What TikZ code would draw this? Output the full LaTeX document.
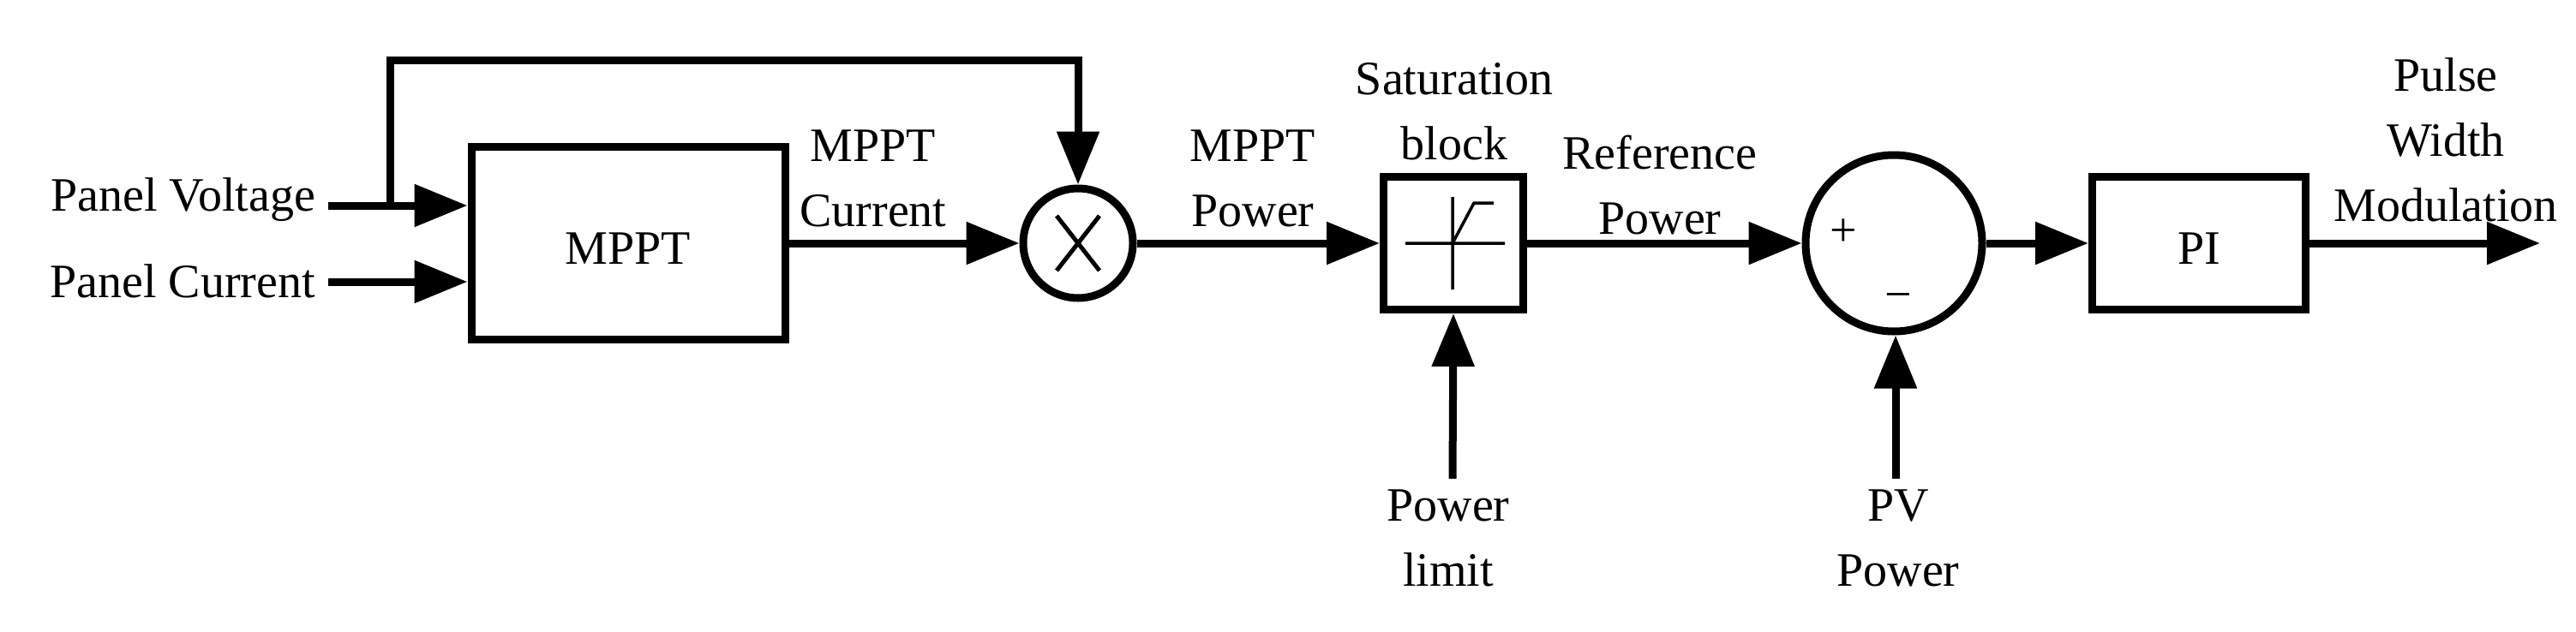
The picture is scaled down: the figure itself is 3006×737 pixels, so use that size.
\documentclass[tikz,border=0pt]{standalone}
\usepackage{fontspec}
\setmainfont{Liberation Serif}
\usetikzlibrary{arrows.meta}
\begin{document}
\begin{tikzpicture}[x=1pt,y=-1pt,
  lbl/.style={font=\fontsize{56}{76}\selectfont, align=center, inner sep=0pt},
  blk/.style={draw, line width=9pt, inner sep=0pt},
  wire/.style={line width=9pt},
  arr/.style={wire, -{Triangle[length=62pt,width=48pt]}}]
\useasboundingbox (0,0) rectangle (3006,737);
% blocks
\node[blk, minimum width=366pt, minimum height=225pt] (mppt) at (733,284) {};
\node[lbl] at (733,290) {MPPT};
\node[blk, circle, minimum size=128pt] (mul) at (1258,284) {};
\draw[line width=5pt] (mul.center) ++(-25,-32) -- ++(50,64) ++(0,-64) -- ++(-50,64);
\node[blk, minimum width=163pt, minimum height=155pt] (sat) at (1696,284) {};
\draw[line width=3.5pt] (1640,284) -- (1756,284) (1695,230) -- (1695,338)
  (1695,284) -- (1720,237) -- (1743,237);
\node[blk, circle, minimum size=206pt] (sum) at (2210,284) {};
\node[lbl] at (2151,272) {+};
\node[lbl] at (2215,352) {\textminus};
\node[blk, minimum width=249pt, minimum height=155pt] (pi) at (2566,284) {};
\node[lbl] at (2566,290) {PI};
% coordinates
\coordinate (vin) at (383,240);
\coordinate (cin) at (383,329);
\coordinate (tap) at (455,240);
\coordinate (plim) at (1695,559);
\coordinate (pvp) at (2212,559);
\coordinate (out) at (2964,284);
% labels
\node[lbl, anchor=east] at (368,233) {Panel Voltage};
\node[lbl, anchor=east] at (368,328) {Panel Current};
\node[lbl] at (1019,208) {MPPT\\Current};
\node[lbl] at (1462,208) {MPPT\\Power};
\node[lbl] at (1697,130) {Saturation\\block};
\node[lbl] at (1937,216) {Reference\\Power};
\node[lbl] at (1690,628) {Power\\limit};
\node[lbl] at (2215,628) {PV\\Power};
\node[lbl] at (2854,163) {Pulse\\Width\\Modulation};
% connectors
\draw[arr] (vin) -- (vin -| mppt.west);
\draw[arr] (cin) -- (cin -| mppt.west);
\draw[arr] (tap) -- (455,70) -| (mul.north);
\draw[arr] (mppt.east) -- (mul.west);
\draw[arr] (mul.east) -- (sat.west);
\draw[arr] (plim) -- (sat.south);
\draw[arr] (sat.east) -- (sum.west);
\draw[arr] (pvp) -- (pvp |- sum.south);
\draw[arr] (sum.east) -- (pi.west);
\draw[arr] (pi.east) -- (out);
\end{tikzpicture}
\end{document}
